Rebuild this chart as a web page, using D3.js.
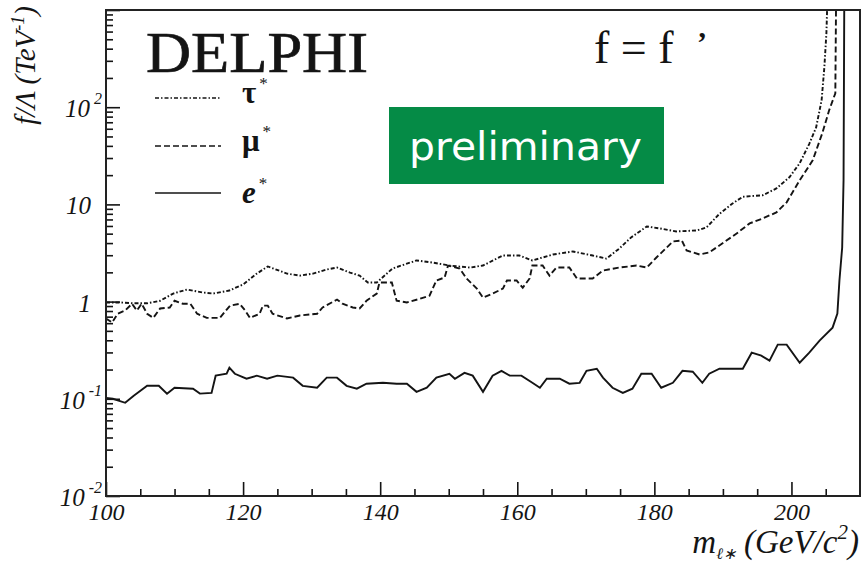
<!DOCTYPE html>
<html>
<head>
<meta charset="utf-8">
<script src="https://cdn.jsdelivr.net/npm/d3@7"></script>
<style>
  html, body { margin: 0; padding: 0; background: #fff; }
  svg { display: block; }
</style>
</head>
<body>
<svg id="chart" width="863" height="565"></svg>
<script>
// Excited lepton coupling limits f/Λ (TeV^-1) versus mass (GeV/c^2), f = f'

const tauMass  = [100, 102, 104, 106, 107.9, 109.8, 111.8, 114.1, 115.6, 118, 120, 122, 123.6, 126.4, 128.3, 130.2, 132.2, 133.7, 135.6, 137, 138.2, 139.5, 141.8, 145.3, 147.7, 150.1, 153.1, 155, 157.9, 160.3, 162.2, 165.2, 168.1, 171, 173, 174.9, 176.6, 178.9, 180.8, 183.2, 186.2, 187.6, 189.5, 191.4, 192.9, 195.8, 197.8, 199.7, 201.2, 202.6, 203.6, 204.4, 204.8, 205.1, 205.2];
const tauLimit = [0.98, 0.98, 0.96, 0.96, 1.02, 1.21, 1.33, 1.24, 1.21, 1.30, 1.50, 1.94, 2.30, 1.94, 1.85, 1.94, 2.14, 2.24, 1.99, 1.85, 1.57, 1.57, 2.19, 2.65, 2.52, 2.35, 2.24, 2.35, 2.98, 2.98, 2.65, 3.05, 3.28, 2.98, 2.77, 3.52, 4.57, 5.93, 5.66, 5.27, 5.40, 5.79, 8.0, 10.2, 12.0, 12.4, 14.6, 19.0, 26.5, 42, 62, 118, 258, 579, 1000];

const muMass  = [100, 100.9, 101.7, 102.8, 103.8, 104.5, 105.2, 106, 106.9, 107.9, 109.3, 110, 111.2, 112.3, 113.3, 114.7, 116.6, 118.1, 119.5, 120.3, 121, 122.4, 122.9, 123.6, 124.3, 126.4, 128.3, 130.8, 131.6, 133.7, 134.5, 136, 137, 138, 139.5, 139.9, 141.7, 142.4, 143.9, 145.8, 147.2, 148.2, 149.4, 149.9, 151.6, 152.6, 154.1, 155, 156.4, 157.9, 158.5, 159.9, 160.8, 161.8, 162.2, 163.7, 164.7, 165.7, 167.6, 168.7, 171, 172.5, 174.9, 177.4, 178.9, 180.3, 181.8, 182.7, 184, 184.7, 186.6, 188, 189.9, 192, 193.9, 195.8, 197.8, 199.3, 201.2, 203.1, 204.5, 205.5, 206.4, 206.5];
const muLimit = [0.67, 0.61, 0.75, 0.81, 0.95, 0.81, 0.95, 0.75, 0.68, 0.85, 0.87, 1.02, 0.95, 0.95, 0.75, 0.68, 0.68, 0.91, 0.95, 0.81, 0.68, 0.75, 0.91, 0.91, 0.75, 0.67, 0.72, 0.75, 0.87, 1.05, 0.95, 0.87, 0.85, 1.02, 1.21, 1.57, 1.57, 1.02, 0.98, 1.07, 1.15, 1.65, 1.77, 2.35, 2.19, 1.73, 1.36, 1.10, 1.21, 1.36, 1.65, 1.65, 1.39, 1.73, 2.35, 2.35, 1.85, 2.24, 2.24, 1.73, 1.73, 2.09, 2.24, 2.35, 2.24, 2.84, 3.60, 4.16, 4.26, 3.36, 3.05, 3.20, 3.96, 5.02, 6.37, 7.17, 8.27, 10.5, 17.7, 28.4, 54, 93, 139, 1000];

const eMass  = [100, 101, 102.8, 104, 106, 107.7, 108.9, 110, 112.7, 113.7, 115.4, 116, 117.6, 118, 118.8, 120.5, 122, 123.5, 125, 127.3, 128.7, 130.8, 132.2, 133.7, 135.1, 136.6, 138, 140.4, 142.4, 143.9, 145.3, 146.8, 148.2, 150.1, 150.9, 152.3, 153.5, 155, 156.4, 157.7, 158.9, 160.6, 162.2, 163.3, 164.3, 166.2, 167.6, 169.1, 170.1, 171.6, 172.5, 173.9, 175.4, 176.8, 178.1, 179.6, 181, 182.7, 184.1, 185.6, 187, 188, 189.5, 191.4, 192.9, 194.2, 195.6, 196.8, 198, 199.3, 201.2, 202.6, 204.1, 206, 206.7, 207, 207.4, 207.6, 207.7];
const eLimit = [0.102, 0.100, 0.091, 0.107, 0.136, 0.136, 0.113, 0.130, 0.127, 0.113, 0.115, 0.173, 0.181, 0.209, 0.181, 0.161, 0.173, 0.161, 0.173, 0.165, 0.136, 0.130, 0.165, 0.165, 0.136, 0.127, 0.143, 0.146, 0.143, 0.143, 0.118, 0.130, 0.165, 0.181, 0.161, 0.185, 0.173, 0.118, 0.173, 0.194, 0.173, 0.173, 0.146, 0.130, 0.161, 0.161, 0.143, 0.146, 0.194, 0.204, 0.165, 0.130, 0.115, 0.127, 0.181, 0.181, 0.130, 0.146, 0.194, 0.190, 0.146, 0.181, 0.204, 0.204, 0.204, 0.298, 0.278, 0.247, 0.361, 0.361, 0.235, 0.298, 0.396, 0.540, 0.752, 1.65, 3.6, 17.7, 1000];

const xMajorTicks = [100, 120, 140, 160, 180, 200];
const xMinorTicks = [105, 110, 115, 125, 130, 135, 145, 150, 155, 165, 170, 175, 185, 190, 195, 205];
const yMajorTicks = [0.01, 0.1, 1, 10, 100, 1000];
const yMinorTicks = [2, 3, 4, 5, 6, 7, 8, 9].flatMap(k => [0.01, 0.1, 1, 10, 100].map(d => k * d));
const yLabelValues = [0.01, 0.1, 1, 10, 100];
const yLabelBase   = ["10", "10", "1", "10", "10"];
const yLabelExp    = ["-2", "-1", "", "", "2"];

const legendNames = ["τ", "μ", "e"];

const W = 863, H = 565;
const plot = { left: 106, right: 860, top: 10, bottom: 496 };
const serif = "'Liberation Serif', 'Times New Roman', serif";
const ink = "#141414";

const x = d3.scaleLinear().domain([100, 210]).range([plot.left, plot.right]);
const y = d3.scaleLog().domain([0.01, 1000]).range([plot.bottom, plot.top]);

const svg = d3.select("#chart");
svg.append("rect").attr("width", W).attr("height", H).attr("fill", "#fff");

svg.append("defs").append("clipPath").attr("id", "plotClip")
  .append("rect")
  .attr("x", plot.left).attr("y", plot.top)
  .attr("width", plot.right - plot.left).attr("height", plot.bottom - plot.top);

// axis ticks, pointing into the frame
function styleTicks(g) {
  g.select(".domain").remove();
  g.selectAll("line").attr("stroke", ink).attr("stroke-width", 1.6);
}

svg.append("g")
  .attr("transform", `translate(0,${plot.bottom})`)
  .call(d3.axisBottom(x).tickValues(xMajorTicks).tickSize(-14).tickSizeOuter(0)
    .tickPadding(7).tickFormat(d3.format("d")))
  .call(styleTicks)
  .call(g => g.selectAll("text")
    .attr("font-family", serif).attr("font-style", "italic")
    .attr("font-size", 24).attr("fill", ink));

svg.append("g")
  .attr("transform", `translate(0,${plot.bottom})`)
  .call(d3.axisBottom(x).tickValues(xMinorTicks).tickSize(-7).tickSizeOuter(0).tickFormat(""))
  .call(styleTicks);

svg.append("g")
  .attr("transform", `translate(${plot.left},0)`)
  .call(d3.axisLeft(y).tickValues(yMajorTicks).tickSize(-14).tickSizeOuter(0).tickFormat(""))
  .call(styleTicks);

svg.append("g")
  .attr("transform", `translate(${plot.left},0)`)
  .call(d3.axisLeft(y).tickValues(yMinorTicks).tickSize(-7).tickSizeOuter(0).tickFormat(""))
  .call(styleTicks);

// y tick labels with powers of ten
const yLab = svg.append("g")
  .attr("font-family", serif).attr("font-style", "italic").attr("fill", ink);
yLabelValues.forEach((v, i) => {
  const hasExp = yLabelExp[i] !== "";
  const t = yLab.append("text")
    .attr("x", hasExp ? 102 : 91)
    .attr("y", y(v) + 10)
    .attr("text-anchor", "end")
    .attr("font-size", 25);
  t.append("tspan").text(yLabelBase[i]);
  if (hasExp) {
    t.append("tspan").attr("dy", -13).attr("dx", 4).attr("font-size", 16).text(yLabelExp[i]);
  }
});

// limit curves
const line = d3.line().x(d => x(d[0])).y(d => y(d[1]));
const curves = svg.append("g").attr("clip-path", "url(#plotClip)")
  .attr("fill", "none").attr("stroke", ink).attr("stroke-width", 1.9);

curves.append("path").datum(d3.zip(tauMass, tauLimit))
  .attr("d", line).attr("stroke-dasharray", "4,2,1.5,2");
curves.append("path").datum(d3.zip(muMass, muLimit))
  .attr("d", line).attr("stroke-dasharray", "6,3");
curves.append("path").datum(d3.zip(eMass, eLimit))
  .attr("d", line);

// frame
svg.append("rect")
  .attr("x", plot.left).attr("y", plot.top)
  .attr("width", plot.right - plot.left).attr("height", plot.bottom - plot.top)
  .attr("fill", "none").attr("stroke", "#222").attr("stroke-width", 2);

// axis titles
const xt = svg.append("text")
  .attr("x", 859).attr("y", 553).attr("text-anchor", "end")
  .attr("font-family", serif).attr("font-style", "italic")
  .attr("font-size", 33).attr("fill", ink);
xt.append("tspan").text("m");
xt.append("tspan").attr("dy", 6).attr("font-size", 16).text("ℓ∗");
xt.append("tspan").attr("dy", -6).text(" (GeV/c");
xt.append("tspan").attr("dy", -14).attr("font-size", 21).text("2");
xt.append("tspan").attr("dy", 14).text(")");

const yt = svg.append("text")
  .attr("transform", "translate(35,6) rotate(-90)")
  .attr("text-anchor", "end")
  .attr("font-family", serif).attr("font-style", "italic")
  .attr("font-size", 29).attr("fill", ink);
yt.append("tspan").text("f/Λ (TeV");
yt.append("tspan").attr("dy", -11).attr("font-size", 18).text("-1");
yt.append("tspan").attr("dy", 11).text(")");

// experiment name and coupling condition
svg.append("text")
  .attr("x", 146).attr("y", 72)
  .attr("textLength", 222).attr("lengthAdjust", "spacingAndGlyphs")
  .attr("font-family", serif).attr("font-size", 58).attr("fill", ink)
  .attr("stroke", ink).attr("stroke-width", 0.7)
  .text("DELPHI");

svg.append("text")
  .attr("x", 594).attr("y", 63)
  .attr("font-family", serif).attr("font-size", 46).attr("fill", ink)
  .text("f = f");
svg.append("text")
  .attr("x", 697).attr("y", 52)
  .attr("font-family", serif).attr("font-weight", "bold")
  .attr("font-size", 30).attr("fill", ink)
  .text("’");

// legend
const legendDash = ["4,2,1.5,2", "6,3", null];
const legendY = [98, 146, 193];
const leg = svg.append("g");
legendNames.forEach((name, i) => {
  leg.append("line")
    .attr("x1", 155).attr("x2", 221)
    .attr("y1", legendY[i]).attr("y2", legendY[i])
    .attr("stroke", ink).attr("stroke-width", 1.6)
    .attr("stroke-dasharray", legendDash[i]);
  const t = leg.append("text")
    .attr("x", 242).attr("y", legendY[i] + (i === 2 ? 10 : 5))
    .attr("font-family", serif).attr("font-weight", "bold")
    .attr("font-style", i === 2 ? "italic" : "normal")
    .attr("font-size", 31).attr("fill", ink);
  t.append("tspan").text(name);
  t.append("tspan").attr("dy", -14).attr("dx", 3).attr("font-size", 17)
    .attr("font-weight", "normal").attr("font-style", "normal").text("*");
});

// preliminary badge
svg.append("rect")
  .attr("x", 389).attr("y", 107).attr("width", 275).attr("height", 77)
  .attr("fill", "#058b46");
svg.append("text")
  .attr("x", 409).attr("y", 160)
  .attr("textLength", 233).attr("lengthAdjust", "spacingAndGlyphs")
  .attr("font-family", "'DejaVu Sans', 'Noto Sans', sans-serif")
  .attr("font-size", 39).attr("fill", "#fff")
  .text("preliminary");
</script>
</body>
</html>
